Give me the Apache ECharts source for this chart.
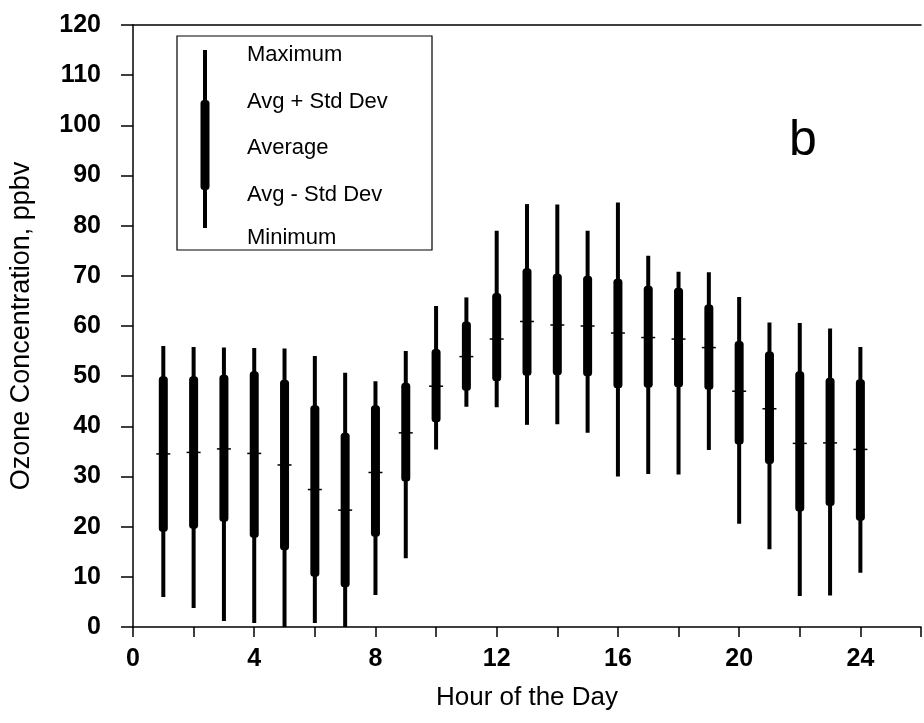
<!DOCTYPE html>
<html>
<head>
<meta charset="utf-8">
<script src="https://cdn.jsdelivr.net/npm/echarts@6/dist/echarts.min.js"></script>
<style>
  html, body { margin: 0; padding: 0; background: #ffffff; }
  #chart { width: 924px; height: 723px; }
</style>
</head>
<body>
<div id="chart"></div>
<script>
// Hourly ozone statistics (ppbv)
const hours      = [1, 2, 3, 4, 5, 6, 7, 8, 9, 10, 11, 12, 13, 14, 15, 16, 17, 18, 19, 20, 21, 22, 23, 24];
const maxVals    = [56.0, 55.8, 55.7, 55.6, 55.5, 54.0, 50.7, 49.0, 55.0, 64.0, 65.7, 79.0, 84.3, 84.2, 79.0, 84.6, 74.0, 70.8, 70.7, 65.8, 60.7, 60.6, 59.5, 55.8];
const upperVals  = [50.0, 50.0, 50.3, 51.0, 49.3, 44.2, 38.7, 44.2, 48.7, 55.4, 60.9, 66.6, 71.5, 70.4, 70.0, 69.4, 68.0, 67.6, 64.3, 57.0, 54.9, 51.0, 49.7, 49.4];
const avgVals    = [34.5, 34.8, 35.5, 34.6, 32.3, 27.4, 23.3, 30.8, 38.7, 48.0, 53.9, 57.4, 60.9, 60.2, 60.0, 58.6, 57.7, 57.4, 55.7, 47.0, 43.5, 36.6, 36.7, 35.4];
const lowerVals  = [19.0, 19.6, 21.0, 17.8, 15.3, 10.0, 7.9, 18.0, 29.0, 40.8, 47.1, 49.0, 50.1, 50.2, 50.0, 47.6, 47.7, 47.8, 47.3, 36.4, 32.5, 23.0, 24.1, 21.2];
const minVals    = [6.0, 3.8, 1.2, 0.8, 0.0, 0.8, 0.0, 6.4, 13.7, 35.4, 43.9, 43.8, 40.3, 40.4, 38.7, 30.0, 30.5, 30.4, 35.3, 20.6, 15.5, 6.2, 6.3, 10.8];
const xLabelStep = 4;
const legendLabels = ['Maximum', 'Avg + Std Dev', 'Average', 'Avg - Std Dev', 'Minimum'];
const panelLetter = 'b';

const FONT = 'Liberation Sans, Arial, Helvetica, sans-serif';

const seriesData = hours.map((h, i) => [h, maxVals[i], upperVals[i], avgVals[i], lowerVals[i], minVals[i]]);

// Each hour: thin whisker min..max, thick rounded bar for avg +/- std dev, short tick at the average
function renderRange(params, api) {
  const x = api.value(0);
  const pMax = api.coord([x, api.value(1)]);
  const pUp  = api.coord([x, api.value(2)]);
  const pAvg = api.coord([x, api.value(3)]);
  const pLo  = api.coord([x, api.value(4)]);
  const pMin = api.coord([x, api.value(5)]);
  return {
    type: 'group',
    children: [
      { type: 'line', shape: { x1: pMax[0], y1: pMax[1], x2: pMin[0], y2: pMin[1] },
        style: { stroke: '#000', lineWidth: 4, lineCap: 'butt' } },
      { type: 'rect', shape: { x: pUp[0] - 4.5, y: pUp[1], width: 9, height: pLo[1] - pUp[1], r: 3.5 },
        style: { fill: '#000' } },
      { type: 'line', shape: { x1: pAvg[0] - 7, y1: pAvg[1], x2: pAvg[0] + 7, y2: pAvg[1] },
        style: { stroke: '#000', lineWidth: 1.5 } }
    ]
  };
}

// Legend box with a sample range glyph
const legendBox = { left: 177, top: 36, right: 432, bottom: 250 };
const legendGlyphX = 205;
const legendTextX = 247;
const legendTextY = [55, 102, 148, 195, 238];

const graphics = [
  { type: 'rect', shape: { x: legendBox.left, y: legendBox.top, width: legendBox.right - legendBox.left, height: legendBox.bottom - legendBox.top },
    style: { fill: '#fff', stroke: '#000', lineWidth: 1.2 }, z: 10 },
  { type: 'line', shape: { x1: legendGlyphX, y1: 50, x2: legendGlyphX, y2: 228 },
    style: { stroke: '#000', lineWidth: 4 }, z: 11 },
  { type: 'rect', shape: { x: legendGlyphX - 4.5, y: 100, width: 9, height: 90, r: 3.5 },
    style: { fill: '#000' }, z: 11 },
  { type: 'text', left: 789, top: 116, z: 11,
    style: { text: panelLetter, font: '50px ' + FONT, fill: '#000' } }
];
legendLabels.forEach((t, i) => {
  graphics.push({ type: 'text', x: legendTextX, y: legendTextY[i], z: 11,
    style: { text: t, font: '22px ' + FONT, fill: '#000', textVerticalAlign: 'middle' } });
});

const chart = echarts.init(document.getElementById('chart'), null, { renderer: 'canvas' });
chart.setOption({
  animation: false,
  backgroundColor: '#fff',
  grid: { left: 133, right: 0, top: 25, bottom: 96, containLabel: false },
  xAxis: [
    {
      type: 'value', min: 0, max: 26, interval: 2,
      axisLine: { show: true, lineStyle: { color: '#000', width: 1.5 } },
      axisTick: { show: true, inside: false, length: 10, lineStyle: { color: '#000', width: 1.5 } },
      splitLine: { show: false },
      axisLabel: {
        margin: 20, color: '#000', fontFamily: FONT, fontSize: 25, fontWeight: 'bold',
        formatter: v => (v % xLabelStep === 0 && v <= 24) ? String(v) : ''
      },
      name: 'Hour of the Day', nameLocation: 'middle', nameGap: 58,
      nameTextStyle: { color: '#000', fontFamily: FONT, fontSize: 26 }
    },
    {
      type: 'value', min: 0, max: 26, position: 'top',
      axisLine: { show: true, lineStyle: { color: '#000', width: 1.5 } },
      axisTick: { show: false }, axisLabel: { show: false }, splitLine: { show: false }
    }
  ],
  yAxis: {
    type: 'value', min: 0, max: 120, interval: 10,
    axisLine: { show: true, lineStyle: { color: '#000', width: 1.5 } },
    axisTick: { show: true, inside: false, length: 12, lineStyle: { color: '#000', width: 1.5 } },
    splitLine: { show: false },
    axisLabel: { margin: 32, color: '#000', fontFamily: FONT, fontSize: 25, fontWeight: 'bold' },
    name: 'Ozone Concentration, ppbv', nameLocation: 'middle', nameGap: 98, nameRotate: 90,
    nameTextStyle: { color: '#000', fontFamily: FONT, fontSize: 27 }
  },
  series: [{
    type: 'custom',
    renderItem: renderRange,
    data: seriesData,
    encode: { x: 0, y: [1, 2, 3, 4, 5] },
    clip: false
  }],
  graphic: graphics
});
</script>
</body>
</html>
